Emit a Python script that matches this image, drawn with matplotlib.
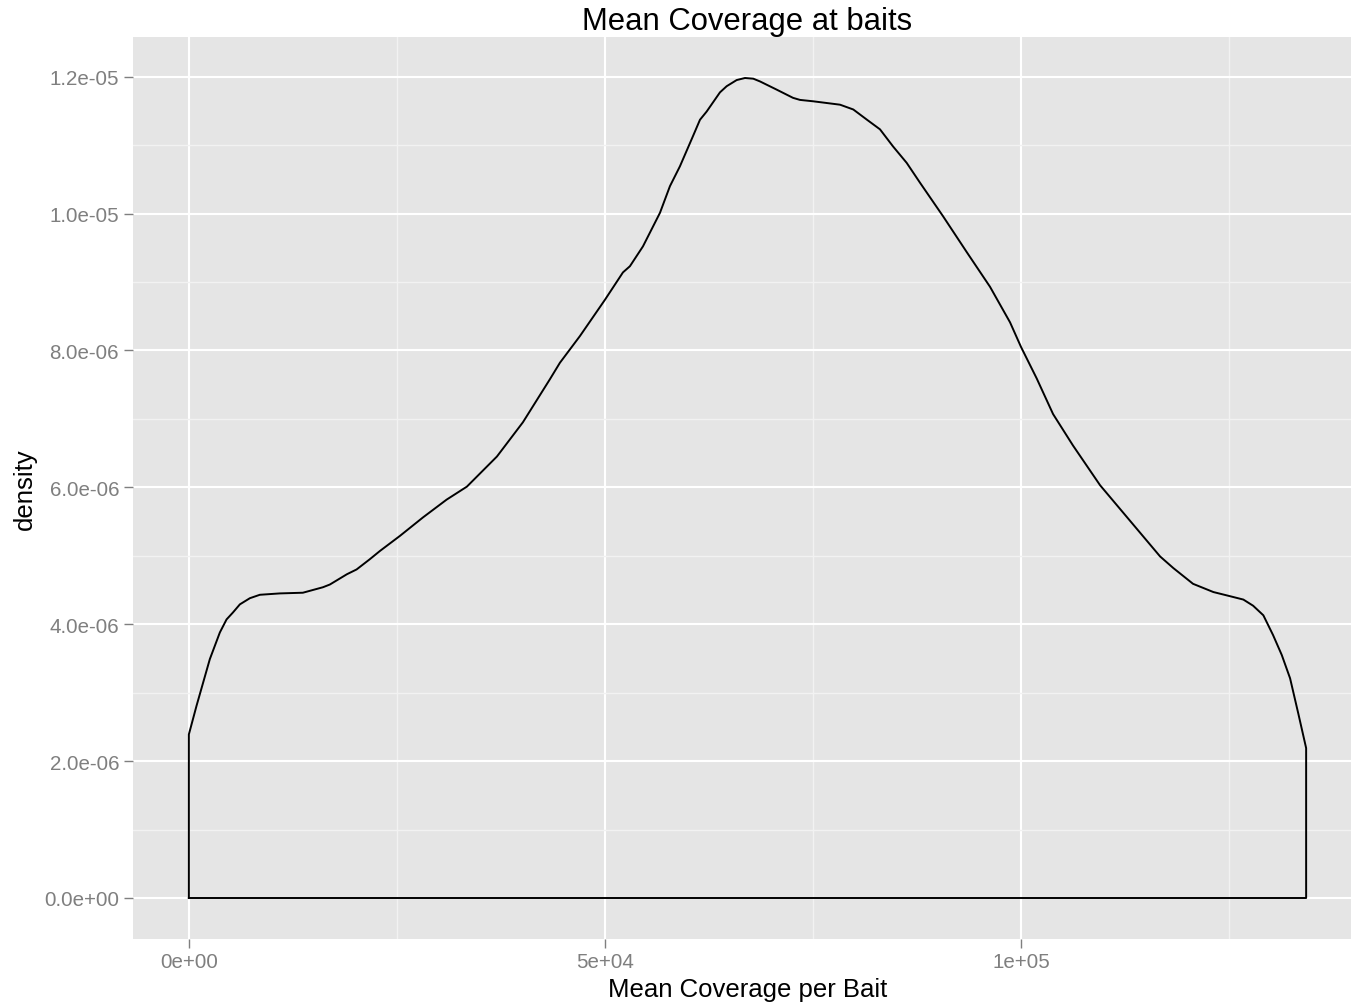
import numpy as np
import matplotlib
matplotlib.use("Agg")
import matplotlib.pyplot as plt

plt.rcParams['font.family'] = ['Liberation Sans', 'DejaVu Sans']

# density curve (coverage, density in units of 1e-6)
coverage = [0, 925, 2520, 3726, 4530, 5288, 6130, 7332, 8530, 10940, 13700,
            16110, 16947, 18990, 20156, 21750, 22960, 25360, 28130, 30973,
            33410, 37020, 40140, 43390, 44590, 46994, 50000, 52163, 53000,
            54567, 56610, 57811, 59010, 60576, 61420, 62222, 63820, 64627,
            65830, 66830, 67825, 68630, 70637, 72600, 73436, 75000, 78250,
            79843, 81490, 83051, 84620, 86260, 87860, 90630, 93510, 96270,
            98680, 100000, 101885, 103850, 106248, 109500, 116710, 118303,
            120670, 123111, 124760, 126716, 127890, 129120, 130290, 131332,
            132330, 133327, 134260]
density_e6 = [2.39, 2.81, 3.49, 3.88, 4.07, 4.17, 4.29, 4.38, 4.43, 4.45, 4.46,
              4.54, 4.58, 4.73, 4.80, 4.95, 5.07, 5.29, 5.56, 5.82,
              6.01, 6.45, 6.95, 7.58, 7.82, 8.21, 8.74, 9.14, 9.23,
              9.52, 10.01, 10.40, 10.69, 11.13, 11.37, 11.49, 11.77, 11.86,
              11.95, 11.98, 11.97, 11.93, 11.81, 11.69, 11.66, 11.64, 11.59,
              11.52, 11.37, 11.23, 10.98, 10.74, 10.45, 9.96, 9.43, 8.93,
              8.41, 8.05, 7.59, 7.07, 6.61, 6.03, 4.99, 4.82,
              4.59, 4.47, 4.42, 4.36, 4.27, 4.13, 3.84, 3.55,
              3.21, 2.69, 2.19]

x_ticks = [0, 50000, 100000]
x_ticklabels = ["0e+00", "5e+04", "1e+05"]
x_minor = [25000, 75000, 125000]
y_ticks = [0, 2e-6, 4e-6, 6e-6, 8e-6, 1e-5, 1.2e-5]
y_ticklabels = ["0.0e+00", "2.0e-06", "4.0e-06", "6.0e-06", "8.0e-06",
                "1.0e-05", "1.2e-05"]
y_minor = [1e-6, 3e-6, 5e-6, 7e-6, 9e-6, 1.1e-5]

x = np.array(coverage, dtype=float)
y = np.array(density_e6) * 1e-6

W, H = 1351, 1004
fig = plt.figure(figsize=(W / 100, H / 100), dpi=100)
# panel in pixels: left 133, right ~1362 (runs off the edge), top 38, bottom 940
ax = fig.add_axes([133 / W, (H - 940) / H, (1362 - 133) / W, (940 - 38) / H])
ax.set_facecolor('#E5E5E5')
for s in ax.spines.values():
    s.set_visible(False)

# ggplot-like expansion of 5% on each side
xr = x.max() - x.min()
ax.set_xlim(x.min() - 0.05 * xr, x.max() + 0.05 * xr)
ax.set_ylim(-0.05 * y.max(), y.max() * 1.05)

ax.set_xticks(x_ticks)
ax.set_xticklabels(x_ticklabels)
ax.set_xticks(x_minor, minor=True)
ax.set_yticks(y_ticks)
ax.set_yticklabels(y_ticklabels)
ax.set_yticks(y_minor, minor=True)

ax.grid(which='major', color='white', linewidth=1.5)
ax.grid(which='minor', color='#F2F2F2', linewidth=1.0)
ax.set_axisbelow(True)

ax.tick_params(which='major', length=6.5, width=1.0, color='#7F7F7F',
               labelcolor='#7F7F7F', labelsize=14.8)
ax.tick_params(axis='x', which='major', pad=3)
ax.tick_params(axis='y', which='major', pad=3.5)
ax.tick_params(which='minor', length=0)

# density outline closed down to the baseline, like geom_density
xc = np.concatenate([[x[0]], x, [x[-1], x[0]]])
yc = np.concatenate([[0], y, [0, 0]])
ax.plot(xc, yc, color='black', linewidth=1.4, solid_joinstyle='round')

fig.text(747.5 / W, 1 - 30 / H, "Mean Coverage at baits", ha='center',
         va='baseline', fontsize=22.3, color='black')
fig.text(747.5 / W, 1 - 997 / H, "Mean Coverage per Bait", ha='center',
         va='baseline', fontsize=18.5, color='black')
fig.text(25 / W, 1 - 489 / H, "density", ha='center', va='center',
         rotation=90, fontsize=18.5, color='black')

fig.savefig('out.png', dpi=100)
